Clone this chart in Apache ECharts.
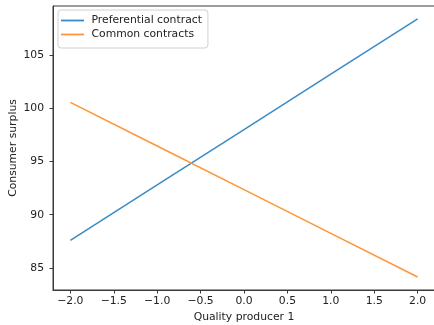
<!DOCTYPE html>
<html>
<head>
<meta charset="utf-8">
<script src="https://cdn.jsdelivr.net/npm/echarts@6/dist/echarts.min.js"></script>
<style>html,body{margin:0;padding:0;background:#fff}#c{width:434px;height:325px}</style>
</head>
<body>
<div id="c"></div>
<script>
const xValues = [-2.0, -1.0, 0.0, 1.0, 2.0];
const preferential = [87.6, 92.8, 98.0, 103.2, 108.4];
const common = [100.55, 96.45, 92.35, 88.25, 84.15];
const xTicks = [-2.0, -1.5, -1.0, -0.5, 0.0, 0.5, 1.0, 1.5, 2.0];
const yTicks = [85, 90, 95, 100, 105];
const seriesNames = ['Preferential contract', 'Common contracts'];
const colors = ['#3a8bc4', '#ff9535'];

const font = 'DejaVu Sans';
const fs = 10.8;
const fmt1 = v => (v < 0 ? '\u2212' : '') + Math.abs(v).toFixed(1);
const chart = echarts.init(document.getElementById('c'), null, {renderer: 'canvas'});
chart.setOption({
  animation: false,
  textStyle: {fontFamily: font},
  grid: {left: 53, top: 6, width: 382, height: 284, show: true, borderColor: '#3a3a3a', borderWidth: 1,
         containLabel: false, outerBoundsMode: 'none'},
  legend: {
    left: 58, top: 10, orient: 'vertical',
    itemWidth: 23, itemHeight: 1.8, itemGap: 3,
    padding: [5, 6, 8, 3],
    borderColor: '#d0d0d0', borderWidth: 1, borderRadius: 3,
    backgroundColor: 'rgba(255,255,255,0.8)',
    textStyle: {fontFamily: font, fontSize: fs, color: '#222', padding: [0, 0, 0, 2.5]},
    data: seriesNames.map((n, i) => ({name: n, icon: 'rect', itemStyle: {color: colors[i]}}))
  },
  xAxis: {
    type: 'value', min: -2.2, max: 2.2,
    name: 'Quality producer 1', nameLocation: 'middle', nameGap: 22, nameMoveOverlap: false,
    nameTextStyle: {fontFamily: font, fontSize: fs, color: '#222'},
    axisLine: {show: true, onZero: false, lineStyle: {color: '#3a3a3a', width: 1}},
    axisTick: {show: true, inside: false, length: 3.5, customValues: xTicks, lineStyle: {color: '#3a3a3a'}},
    axisLabel: {customValues: xTicks, formatter: fmt1, fontFamily: font, fontSize: fs, color: '#222', margin: 6},
    splitLine: {show: false}
  },
  yAxis: {
    type: 'value', min: 82.93, max: 109.6,
    name: 'Consumer surplus', nameLocation: 'middle', nameGap: 34, nameRotate: 90, nameMoveOverlap: false,
    nameTextStyle: {fontFamily: font, fontSize: fs, color: '#222'},
    axisLine: {show: true, onZero: false, lineStyle: {color: '#3a3a3a', width: 1}},
    axisTick: {show: true, inside: false, length: 3.5, customValues: yTicks, lineStyle: {color: '#3a3a3a'}},
    axisLabel: {customValues: yTicks, fontFamily: font, fontSize: fs, color: '#222', margin: 9},
    splitLine: {show: false}
  },
  series: [
    {name: seriesNames[0], type: 'line', symbol: 'none', color: colors[0],
     lineStyle: {width: 1.5}, data: xValues.map((x, i) => [x, preferential[i]])},
    {name: seriesNames[1], type: 'line', symbol: 'none', color: colors[1],
     lineStyle: {width: 1.5}, data: xValues.map((x, i) => [x, common[i]])}
  ]
});
</script>
</body>
</html>
